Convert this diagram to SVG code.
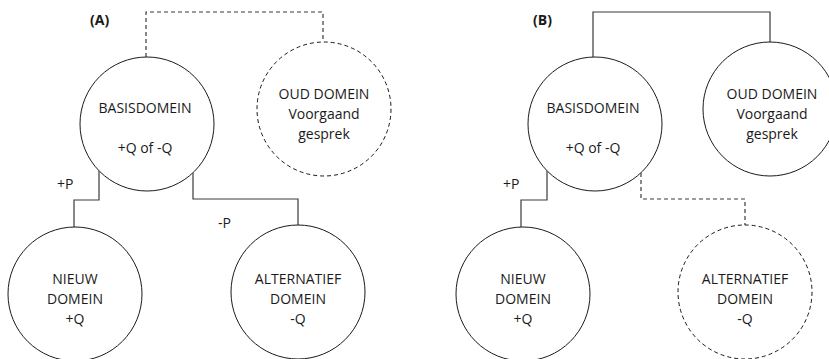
<svg xmlns="http://www.w3.org/2000/svg" width="829" height="359" viewBox="0 0 829 359">
  <style>
    .node { fill: #fff; stroke: #1a1a1a; stroke-width: 1; }
    .dashed { stroke-dasharray: 4 3; }
    .link { fill: none; stroke: #3a3a3a; stroke-width: 1.2; }
    text { font-family: "Open Sans", "Noto Sans", sans-serif; font-size: 14px; fill: #1a1a1a; text-anchor: middle; }
    .title { font-weight: bold; text-anchor: start; }
    .lbl { text-anchor: start; }
  </style>
  <rect width="829" height="359" fill="#fff"/>

  <!-- connectors -->
  <g id="connectors">
    <!-- panel A -->
    <path class="link dashed" d="M146,57 V12 H323 V42"/>
    <path class="link" d="M99,171 V200 H74 V227"/>
    <path class="link" d="M193,173 V199 H298 V225"/>
    <!-- panel B -->
    <path class="link" d="M593,57 V12 H770 V42"/>
    <path class="link" d="M547,171 V200 H521 V227"/>
    <path class="link dashed" d="M641,173 V199 H745 V225"/>
  </g>

  <!-- panel A -->
  <text class="title" x="90" y="25">(A)</text>
  <text class="lbl" x="57" y="189">+P</text>
  <text class="lbl" x="218" y="228">-P</text>

  <g id="a-basis">
    <circle class="node" cx="147" cy="124" r="67"/>
    <text x="145" y="113">BASISDOMEIN</text>
    <text x="145" y="153">+Q of -Q</text>
  </g>
  <g id="a-oud">
    <circle class="node dashed" cx="324" cy="109" r="67"/>
    <text x="324" y="99">OUD DOMEIN</text>
    <text x="324" y="119">Voorgaand</text>
    <text x="324" y="139">gesprek</text>
  </g>
  <g id="a-nieuw">
    <circle class="node" cx="75" cy="294" r="67"/>
    <text x="75" y="284">NIEUW</text>
    <text x="75" y="304">DOMEIN</text>
    <text x="75" y="324">+Q</text>
  </g>
  <g id="a-alternatief">
    <circle class="node" cx="298" cy="292" r="67"/>
    <text x="298" y="284">ALTERNATIEF</text>
    <text x="298" y="304">DOMEIN</text>
    <text x="298" y="324">-Q</text>
  </g>

  <!-- panel B -->
  <text class="title" x="533" y="25">(B)</text>
  <text class="lbl" x="503" y="189">+P</text>

  <g id="b-basis">
    <circle class="node" cx="595" cy="124" r="67"/>
    <text x="593" y="113">BASISDOMEIN</text>
    <text x="593" y="153">+Q of -Q</text>
  </g>
  <g id="b-oud">
    <circle class="node" cx="770" cy="109" r="67"/>
    <text x="772" y="99">OUD DOMEIN</text>
    <text x="772" y="119">Voorgaand</text>
    <text x="772" y="139">gesprek</text>
  </g>
  <g id="b-nieuw">
    <circle class="node" cx="523" cy="294" r="67"/>
    <text x="523" y="284">NIEUW</text>
    <text x="523" y="304">DOMEIN</text>
    <text x="523" y="324">+Q</text>
  </g>
  <g id="b-alternatief">
    <circle class="node dashed" cx="745" cy="292" r="67"/>
    <text x="745" y="284">ALTERNATIEF</text>
    <text x="745" y="304">DOMEIN</text>
    <text x="745" y="324">-Q</text>
  </g>
</svg>
